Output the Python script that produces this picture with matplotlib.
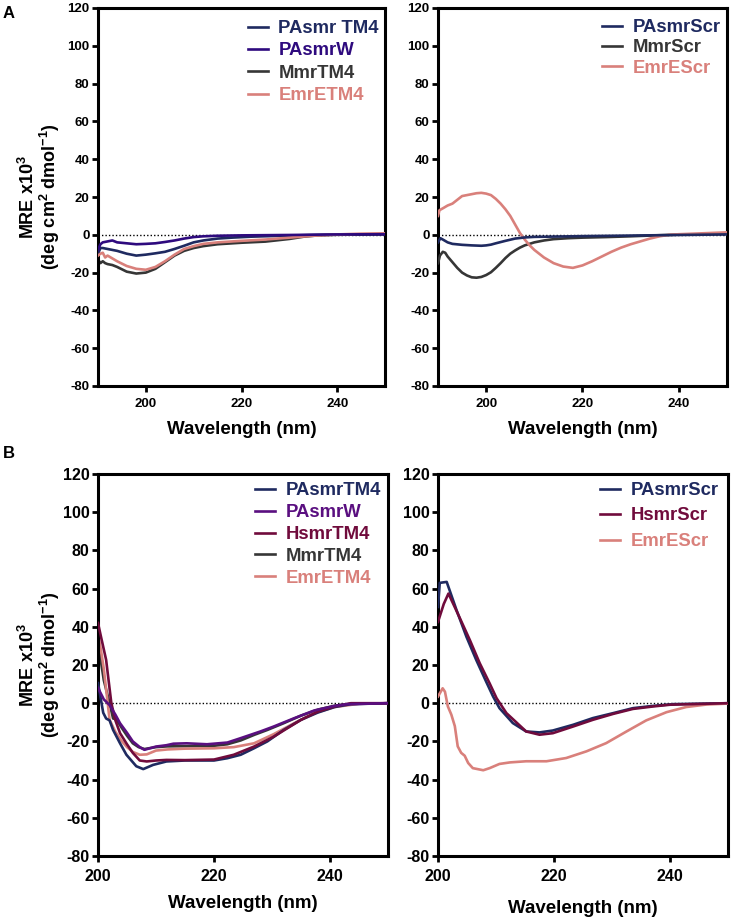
import matplotlib
matplotlib.use("Agg")
import matplotlib.pyplot as plt

plt.rcParams['font.family'] = ['Liberation Sans', 'DejaVu Sans']
plt.rcParams['font.weight'] = 'bold'
plt.rcParams['axes.unicode_minus'] = False
plt.rcParams['mathtext.fontset'] = 'custom'
plt.rcParams['mathtext.rm'] = 'Liberation Sans:bold'
plt.rcParams['mathtext.bf'] = 'Liberation Sans:bold'
plt.rcParams['mathtext.default'] = 'rm'

# ---------------- colours ----------------
C_NAVY = '#1f2a60'
C_PURPLE_A = '#2e0a7e'
C_PURPLE_B = '#5a0f80'
C_CRIMSON = '#700b3c'
C_GRAY = '#363636'
C_SALMON = '#d9807b'

# ---------------- Panel A left ----------------
a1_pasmr_x = [190, 190.5, 191, 192, 194, 196, 198, 200, 202, 204, 206, 208, 210, 212, 215, 218, 222, 226, 230, 235, 240, 250]
a1_pasmr_y = [-10, -7, -7, -7.5, -8.5, -10, -11, -10.5, -9.8, -9, -7.5, -5.8, -4, -3, -2, -1.5, -1, -0.7, -0.4, -0.1, 0.1, 0.3]

a1_pasmrw_x = [190, 190.5, 191, 192, 193, 194, 196, 198, 200, 202, 204, 206, 208, 210, 212, 215, 220, 230, 240, 250]
a1_pasmrw_y = [-8, -5, -4, -3.5, -3, -4, -4.5, -5, -4.8, -4.5, -3.8, -3, -2, -1.2, -0.8, -0.5, -0.3, -0.1, 0.2, 0.3]

a1_mmr_x = [190, 190.5, 191, 191.5, 192, 193, 194, 196, 198, 200, 202, 204, 206, 208, 210, 212, 215, 220, 225, 230, 233, 236, 240, 250]
a1_mmr_y = [-13, -15, -14, -15, -15.5, -16, -17, -19.5, -20.5, -20, -18, -14.5, -11, -8.5, -7, -6, -5, -4.2, -3.6, -2.2, -1, -0.3, 0, 0.3]

a1_emre_x = [190, 190.5, 191, 191.5, 192, 193, 194, 196, 198, 200, 202, 204, 206, 208, 210, 212, 215, 220, 225, 230, 235, 240, 245, 250]
a1_emre_y = [-11, -10, -9.5, -12, -11, -12.5, -14, -16.5, -18, -18.5, -17, -14, -10.5, -7.5, -6, -4.8, -4, -3.2, -2.5, -1.5, -0.5, 0.2, 0.6, 0.8]

# ---------------- Panel A right ----------------
a2_pasmr_x = [190, 190.5, 191, 192, 193, 195, 197, 199, 200, 201, 202, 204, 206, 208, 210, 215, 220, 230, 240, 250]
a2_pasmr_y = [-4, -1.8, -2.5, -4, -4.8, -5.3, -5.6, -5.8, -5.6, -5.2, -4.5, -3.2, -2, -1.4, -1.1, -0.9, -0.7, -0.4, -0.1, 0.2]

a2_mmr_x = [190, 190.4, 191, 191.5, 192, 193, 194, 195, 196, 197, 198, 199, 200, 201, 202, 203, 204, 205, 206, 207, 208, 210, 212, 214, 217, 220, 225, 230, 235, 240, 250]
a2_mmr_y = [-15, -11, -9, -9.5, -11.5, -14.5, -17.5, -20, -21.5, -22.5, -22.7, -22.3, -21.3, -19.8, -17.5, -15, -12.3, -10, -8.3, -6.8, -5.6, -4, -3, -2.3, -1.8, -1.5, -1.2, -0.8, -0.3, 0.1, 0.5]

a2_emre_x = [190, 190.3, 191, 192, 193, 194, 195, 196, 198, 199, 200, 201, 202, 203, 204, 205, 206, 207, 208, 209, 210, 212, 214, 216, 218, 220, 222, 224, 226, 228, 230, 232, 234, 236, 238, 240, 245, 250]
a2_emre_y = [10, 13, 14, 15.5, 16.5, 18.5, 20.5, 21, 22, 22.2, 21.8, 21, 19, 16.5, 13.5, 10, 5.5, 1, -2.5, -5.5, -8, -12, -15, -16.8, -17.5, -16.2, -14, -11.5, -9, -6.8, -5, -3.5, -2, -0.8, 0, 0.3, 0.8, 1.3]

# ---------------- Panel B left ----------------
b1_pasmr_x = [200, 200.9, 201.4, 202, 202.6, 203.8, 204.9, 206.6, 207.8, 209.5, 211.8, 215, 218, 220, 222.3, 224.6, 226.9, 229.2, 232, 235, 237.9, 240.8, 243.6, 250]
b1_pasmr_y = [10.5, -5, -8, -9, -14, -21, -27, -33, -34.5, -32.3, -30.5, -30, -30, -30, -28.8, -27, -23.6, -20, -14, -8.7, -4.9, -2, -0.5, 0]

b1_pasmrw_x = [200, 200.5, 201, 202, 203, 203.8, 205, 206, 207.2, 208, 210, 211.8, 213, 215.3, 218.8, 222.3, 224.6, 228, 230.3, 233.8, 237.3, 240.8, 243, 250]
b1_pasmrw_y = [8, 5, 2, -1, -6, -10.5, -15.5, -20, -23, -24.4, -22.7, -22, -21.2, -21, -21.5, -20.6, -18.3, -14.8, -12.2, -7.9, -3.8, -1.4, -0.5, 0]

b1_hsmr_x = [200, 200.5, 201.4, 202.3, 203, 203.8, 205, 206, 207.2, 208.4, 210, 211.8, 215, 220, 223.4, 226.9, 230.3, 235, 237.9, 240.8, 243.6, 250]
b1_hsmr_y = [42, 35, 22.7, 0, -9, -15.7, -21.5, -26, -30, -30.5, -30, -29.7, -29.8, -29.5, -27, -22.7, -17.5, -8.7, -4.4, -1.7, 0, 0]

b1_mmr_x = [200, 200.5, 201, 202, 202.6, 203.2, 204, 205, 206, 207, 208, 210, 212, 215, 220, 222.3, 224.6, 227, 229.2, 232, 235, 238, 241, 244, 250]
b1_mmr_y = [30, 22, 12, 0, -8, -8.5, -12.5, -17, -21, -23, -24, -23, -22.6, -22.5, -22.3, -21.5, -19.5, -16.5, -14, -10.5, -6.5, -3.3, -1.2, -0.3, 0]

b1_emre_x = [200, 200.5, 201, 202, 203, 204, 205, 206, 207.2, 208.4, 210, 212, 215, 220, 223.4, 226.9, 230.3, 233.8, 237.3, 240.8, 245, 250]
b1_emre_y = [36, 28, 18, -8.7, -15, -19.5, -23, -25.5, -27, -26.8, -24.8, -24.2, -23.8, -23.6, -23, -21, -16.2, -10.5, -5.2, -2, -0.3, 0]

# ---------------- Panel B right ----------------
b2_pasmr_x = [200, 200.3, 201.5, 203.2, 204.9, 206.6, 208.3, 209.5, 210.6, 212.9, 215.2, 217.5, 219.8, 223.3, 226.7, 230.2, 233.6, 237.1, 240.5, 250]
b2_pasmr_y = [50.4, 63, 63.5, 48.7, 34.8, 22.6, 11.3, 3.5, -2.6, -10.4, -14.8, -15.3, -14.3, -11.3, -7.8, -5.2, -2.6, -1.4, -0.5, 0]

b2_hsmr_x = [200, 201, 201.8, 203.7, 205.5, 207.2, 208.9, 210.1, 211.8, 215.2, 217.5, 219.8, 223.3, 226.7, 230.2, 233.6, 237.1, 240, 250]
b2_hsmr_y = [42.6, 52, 57.4, 45, 33, 20.9, 10.4, 2.6, -5.2, -14.8, -16.5, -15.7, -12.2, -8.7, -5.6, -3, -1.7, -0.8, 0]

b2_emre_x = [200, 200.8, 201.2, 201.7, 202.3, 202.9, 203.4, 204, 204.6, 205.2, 206, 207.8, 208.9, 210.6, 212.4, 215.2, 218.7, 222.1, 225.6, 229, 232.5, 235.9, 239.4, 242.8, 246.3, 250]
b2_emre_y = [3.5, 7.8, 6, -1.7, -6, -12, -22.6, -26, -27.5, -31.3, -34, -35.1, -34, -31.8, -31, -30.4, -30.4, -28.7, -25.2, -20.9, -14.8, -9, -4.7, -2, -0.7, -0.2]

y_ticks = [-80, -60, -40, -20, 0, 20, 40, 60, 80, 100, 120]
x_ticks = [200, 220, 240]

W, H = 733, 921
fig = plt.figure(figsize=(W / 100, H / 100), dpi=100)


def px_axes(left, top, right, bottom):
    return fig.add_axes([left / W, 1 - bottom / H, (right - left) / W, (bottom - top) / H])


def style(ax, xlim, tick_fs, xpad, xlabelpad, ylabelpad=None):
    ax.set_xlim(*xlim)
    ax.set_ylim(-80, 120)
    ax.set_yticks(y_ticks)
    ax.set_xticks(x_ticks)
    for s in ax.spines.values():
        s.set_linewidth(2.2)
    ax.tick_params(direction='out', length=4, width=2.0, labelsize=tick_fs, pad=2)
    ax.tick_params(axis='x', pad=xpad)
    for lab in ax.get_xticklabels() + ax.get_yticklabels():
        lab.set_fontweight('bold')
    ax.axhline(0, color='black', lw=1.0, ls=(0, (1, 1.5)), zorder=1)
    ax.set_xlabel('Wavelength (nm)', fontsize=13.5, fontweight='bold', labelpad=xlabelpad)
    if ylabelpad is not None:
        ax.set_ylabel('MRE x10$^{3}$\n(deg cm$^{2}$ dmol$^{-1}$)', fontsize=13,
                      fontweight='bold', linespacing=1.0, labelpad=ylabelpad)


def legend(ax, anchor, spacing):
    leg = ax.legend(loc='upper left', bbox_to_anchor=anchor, frameon=False,
                    handlelength=1.1, handletextpad=0.55,
                    borderpad=0, borderaxespad=0, labelspacing=spacing,
                    labelcolor='linecolor', prop={'weight': 'bold', 'size': 13.3})
    return leg


LW = 1.9

# A left
ax = px_axes(98, 8, 385, 386)
ax.plot(a1_pasmr_x, a1_pasmr_y, color=C_NAVY, lw=LW, label='PAsmr TM4', zorder=3)
ax.plot(a1_pasmrw_x, a1_pasmrw_y, color=C_PURPLE_A, lw=LW, label='PAsmrW', zorder=4)
ax.plot(a1_mmr_x, a1_mmr_y, color=C_GRAY, lw=LW, label='MmrTM4', zorder=2)
ax.plot(a1_emre_x, a1_emre_y, color=C_SALMON, lw=LW, label='EmrETM4', zorder=3)
style(ax, (190, 250), 9.5, 4.5, 8, 4)
legend(ax, ((248 - 98) / 287, 1 - (20 - 8) / 378), 0.29)

# A right
ax = px_axes(438, 8, 727, 386)
ax.plot(a2_pasmr_x, a2_pasmr_y, color=C_NAVY, lw=LW, label='PAsmrScr', zorder=4)
ax.plot(a2_mmr_x, a2_mmr_y, color=C_GRAY, lw=LW, label='MmrScr', zorder=3)
ax.plot(a2_emre_x, a2_emre_y, color=C_SALMON, lw=LW, label='EmrEScr', zorder=3)
style(ax, (190, 250), 9.5, 4.5, 8)
legend(ax, ((602 - 438) / 289, 1 - (19 - 8) / 378), 0.18)

# B left
ax = px_axes(98, 474, 388, 856)
ax.plot(b1_pasmr_x, b1_pasmr_y, color=C_NAVY, lw=LW, label='PAsmrTM4', zorder=3)
ax.plot(b1_pasmrw_x, b1_pasmrw_y, color=C_PURPLE_B, lw=LW, label='PAsmrW', zorder=4)
ax.plot(b1_hsmr_x, b1_hsmr_y, color=C_CRIMSON, lw=LW, label='HsmrTM4', zorder=3)
ax.plot(b1_mmr_x, b1_mmr_y, color=C_GRAY, lw=LW, label='MmrTM4', zorder=2)
ax.plot(b1_emre_x, b1_emre_y, color=C_SALMON, lw=LW, label='EmrETM4', zorder=2)
style(ax, (200, 250), 11.5, 5, 8, 0.5)
legend(ax, ((255 - 98) / 290, 1 - (482 - 474) / 382), 0.27)

# B right
ax = px_axes(438, 474, 728, 856)
ax.plot(b2_pasmr_x, b2_pasmr_y, color=C_NAVY, lw=LW, label='PAsmrScr', zorder=3)
ax.plot(b2_hsmr_x, b2_hsmr_y, color=C_CRIMSON, lw=LW, label='HsmrScr', zorder=4)
ax.plot(b2_emre_x, b2_emre_y, color=C_SALMON, lw=LW, label='EmrEScr', zorder=3)
style(ax, (200, 250), 11.5, 5, 12)
legend(ax, ((600 - 438) / 290, 1 - (482 - 474) / 382), 0.46)

fig.text(3 / W, 1 - 13 / H, 'A', fontsize=12, fontweight='bold', va='center', ha='left')
fig.text(3 / W, 1 - 453 / H, 'B', fontsize=12, fontweight='bold', va='center', ha='left')

fig.savefig('out.png', dpi=100)
